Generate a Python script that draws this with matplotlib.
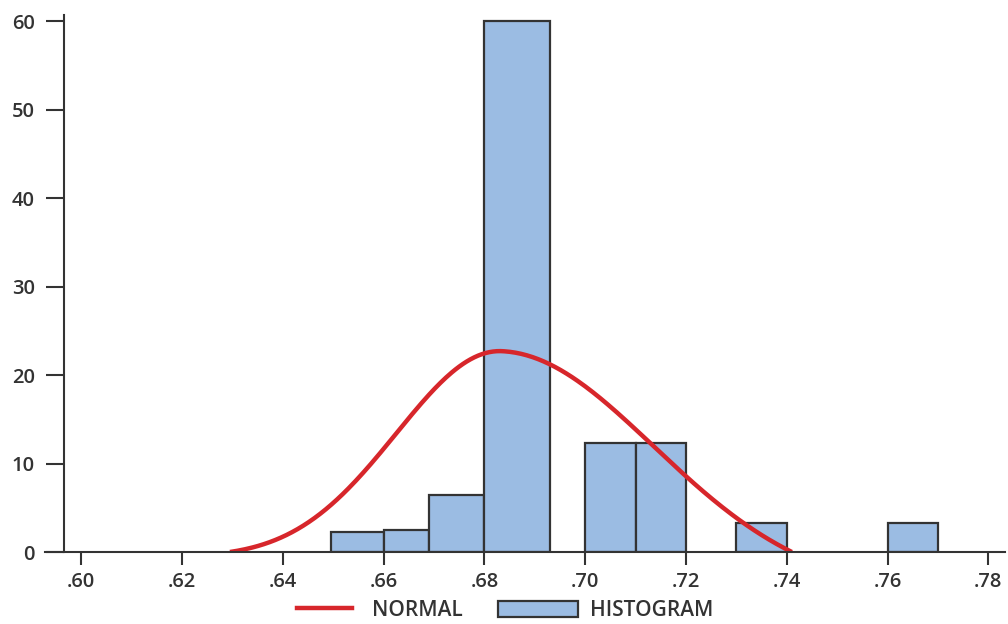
import numpy as np
import matplotlib.pyplot as plt
from matplotlib.patches import Rectangle
from matplotlib.lines import Line2D

plt.rcParams['font.family'] = ['Open Sans', 'DejaVu Sans']

# Data
bin_left = [0.6495, 0.660, 0.669, 0.680, 0.700, 0.710, 0.730, 0.760]
bin_right = [0.660, 0.669, 0.680, 0.693, 0.710, 0.720, 0.740, 0.770]
counts = [2.3, 2.5, 6.4, 60, 12.3, 12.3, 3.3, 3.3]

# fitted curve (slightly wider on the right side)
normal_mean = 0.6835
normal_sd_left = 0.021
normal_sd_right = 0.030
normal_peak = 22.7
normal_start = 0.6295
normal_end = 0.741

x_ticks = [0.60, 0.62, 0.64, 0.66, 0.68, 0.70, 0.72, 0.74, 0.76, 0.78]
x_tick_labels = ['.60', '.62', '.64', '.66', '.68', '.70', '.72', '.74', '.76', '.78']
y_ticks = [0, 10, 20, 30, 40, 50, 60]

bar_color = '#9bbce3'
edge_color = '#333333'
red = '#d7262b'
text_color = '#333333'

fig = plt.figure(figsize=(10.08, 6.24), dpi=100)
ax = fig.add_axes([45 / 1008, 1 - 552 / 624, 960 / 1008, 537 / 624])

widths = [r - l for l, r in zip(bin_left, bin_right)]
ax.bar(bin_left, counts, width=widths, align='edge', color=bar_color,
       edgecolor=edge_color, linewidth=1.6, zorder=2)

# Curve, baseline pulled down so it meets the axis at both ends
x = np.linspace(normal_start, normal_end, 300)
sd = np.where(x < normal_mean, normal_sd_left, normal_sd_right)
g = np.exp(-0.5 * ((x - normal_mean) / sd) ** 2)
base = g[0] + (g[-1] - g[0]) * (x - normal_start) / (normal_end - normal_start)
y = normal_peak * (g - base) / (g - base).max()
ax.plot(x, y, color=red, linewidth=3.2, zorder=3, solid_capstyle='butt')

ax.set_xlim(0.5928, 0.7833)
ax.set_ylim(0, 60.68)

for s in ['top', 'right']:
    ax.spines[s].set_visible(False)
ax.spines['left'].set_position(('data', 0.5966))
for s in ['left', 'bottom']:
    ax.spines[s].set_linewidth(1.5)
    ax.spines[s].set_color(edge_color)
    ax.spines[s].set_zorder(4)

ax.set_xticks(x_ticks)
ax.set_xticklabels(x_tick_labels)
ax.set_yticks(y_ticks)
ax.tick_params(axis='x', length=9.5, width=1.5, color=edge_color, pad=5,
               labelsize=14.5, labelcolor=text_color)
ax.tick_params(axis='y', length=13, width=1.5, color=edge_color, pad=8,
               labelsize=14.5, labelcolor=text_color)
for lab in ax.get_xticklabels() + ax.get_yticklabels():
    lab.set_fontweight(600)

# Legend drawn by hand below the axis
fig.add_artist(Line2D([297 / 1008, 352 / 1008], [1 - 608 / 624] * 2,
                      transform=fig.transFigure, color=red, linewidth=3.2))
fig.text(372 / 1008, 1 - 610 / 624, 'NORMAL', fontsize=15, fontweight=600,
         color=text_color, ha='left', va='center')
fig.add_artist(Rectangle((498 / 1008, 1 - 617 / 624), 80 / 1008, 16 / 624,
                         transform=fig.transFigure, facecolor=bar_color,
                         edgecolor=edge_color, linewidth=1.6))
fig.text(590 / 1008, 1 - 611 / 624, 'HISTOGRAM', fontsize=15, fontweight=600,
         color=text_color, ha='left', va='center')

plt.savefig('out.png', dpi=100)
